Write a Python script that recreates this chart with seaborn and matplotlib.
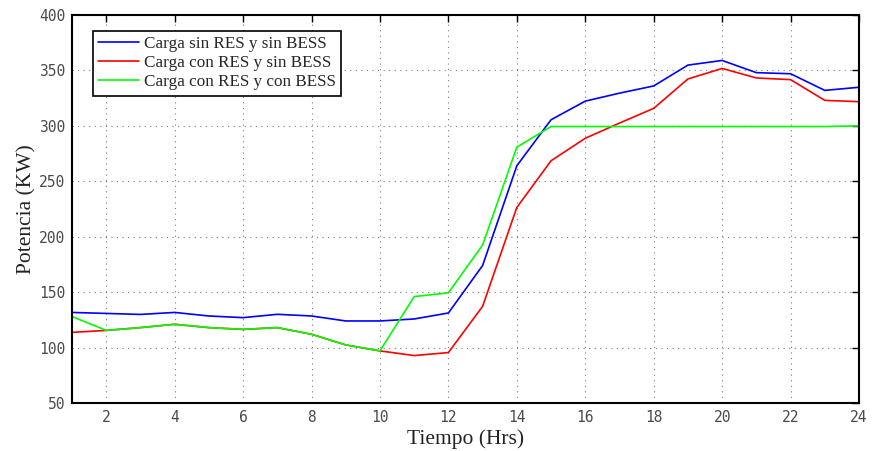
import numpy as np
import pandas as pd
import matplotlib
matplotlib.use("Agg")
import matplotlib.pyplot as plt
import seaborn as sns

hours = list(range(1, 25))
sin_res_sin_bess = [131.7, 130.8, 129.9, 131.7, 128.5, 127.0, 130.0, 128.5, 124.0, 124.0, 125.8, 131.2,
                    174.0, 264.0, 305.5, 322.3, 329.5, 336.0, 354.8, 359.0, 348.0, 347.0, 332.0, 334.8]
con_res_sin_bess = [113.7, 115.5, 118.0, 121.0, 118.0, 116.4, 118.0, 112.0, 102.4, 97.0, 92.8, 95.5,
                    137.2, 226.4, 268.5, 288.8, 302.5, 315.8, 342.3, 351.8, 343.2, 341.7, 323.0, 321.8]
con_res_con_bess = [128.0, 115.5, 118.0, 121.0, 118.0, 116.4, 118.0, 112.0, 102.4, 97.0, 146.0, 149.4,
                    192.5, 280.8, 299.4, 299.4, 299.4, 299.4, 299.4, 299.4, 299.4, 299.4, 299.4, 300.0]
series_names = ["Carga sin RES y sin BESS", "Carga con RES y sin BESS", "Carga con RES y con BESS"]
series_colors = ["#0000ff", "#ff0000", "#00ff00"]
x_ticks = list(range(2, 25, 2))
y_ticks = list(range(50, 401, 50))

df = pd.DataFrame({
    "Hora": hours * 3,
    "Potencia": sin_res_sin_bess + con_res_sin_bess + con_res_con_bess,
    "Serie": [series_names[0]] * 24 + [series_names[1]] * 24 + [series_names[2]] * 24,
})

sns.set_style("white")
plt.rcParams['font.family'] = ['DejaVu Sans']

fig = plt.figure(figsize=(8.77, 4.51), dpi=100)
ax = fig.add_axes([72/877, 1-403/451, (859-72)/877, (403-15)/451])

sns.lineplot(data=df, x="Hora", y="Potencia", hue="Serie", hue_order=series_names,
             palette=series_colors, linewidth=1.2, ax=ax, legend=True)

ax.set_xlim(1, 24)
ax.set_ylim(50, 400)
ax.set_xticks(x_ticks)
ax.set_yticks(y_ticks)
ax.grid(True, linestyle=(0, (1, 4)), color="#7a7a7a", linewidth=0.8)
ax.tick_params(direction="in", top=True, right=True, length=5, width=1, colors="black",
               labelcolor="#4a4a4a", labelsize=10.5, pad=5)
for lab in ax.get_xticklabels() + ax.get_yticklabels():
    lab.set_fontfamily(["DejaVu Sans Mono", "DejaVu Sans"])
    lab.set_fontweight("light")
for s in ax.spines.values():
    s.set_linewidth(1.5)
    s.set_color("black")

serif = ["Liberation Serif", "DejaVu Serif"]
ax.set_xlabel("Tiempo (Hrs)", fontsize=15.5, family=serif, color="#222222", labelpad=3)
ax.set_ylabel("Potencia (KW)", fontsize=15.5, family=serif, color="#222222", labelpad=2)

leg = ax.legend(loc="upper left", bbox_to_anchor=(0.027, 0.96), frameon=True, fancybox=False,
                edgecolor="black", framealpha=1, prop={"family": serif, "size": 12.3},
                handlelength=2.4, handletextpad=0.3, borderpad=0.3, labelspacing=0.2,
                borderaxespad=0)
leg.get_frame().set_linewidth(1.2)
for line in leg.get_lines():
    line.set_linewidth(1.2)

fig.savefig("out.png", dpi=100)
